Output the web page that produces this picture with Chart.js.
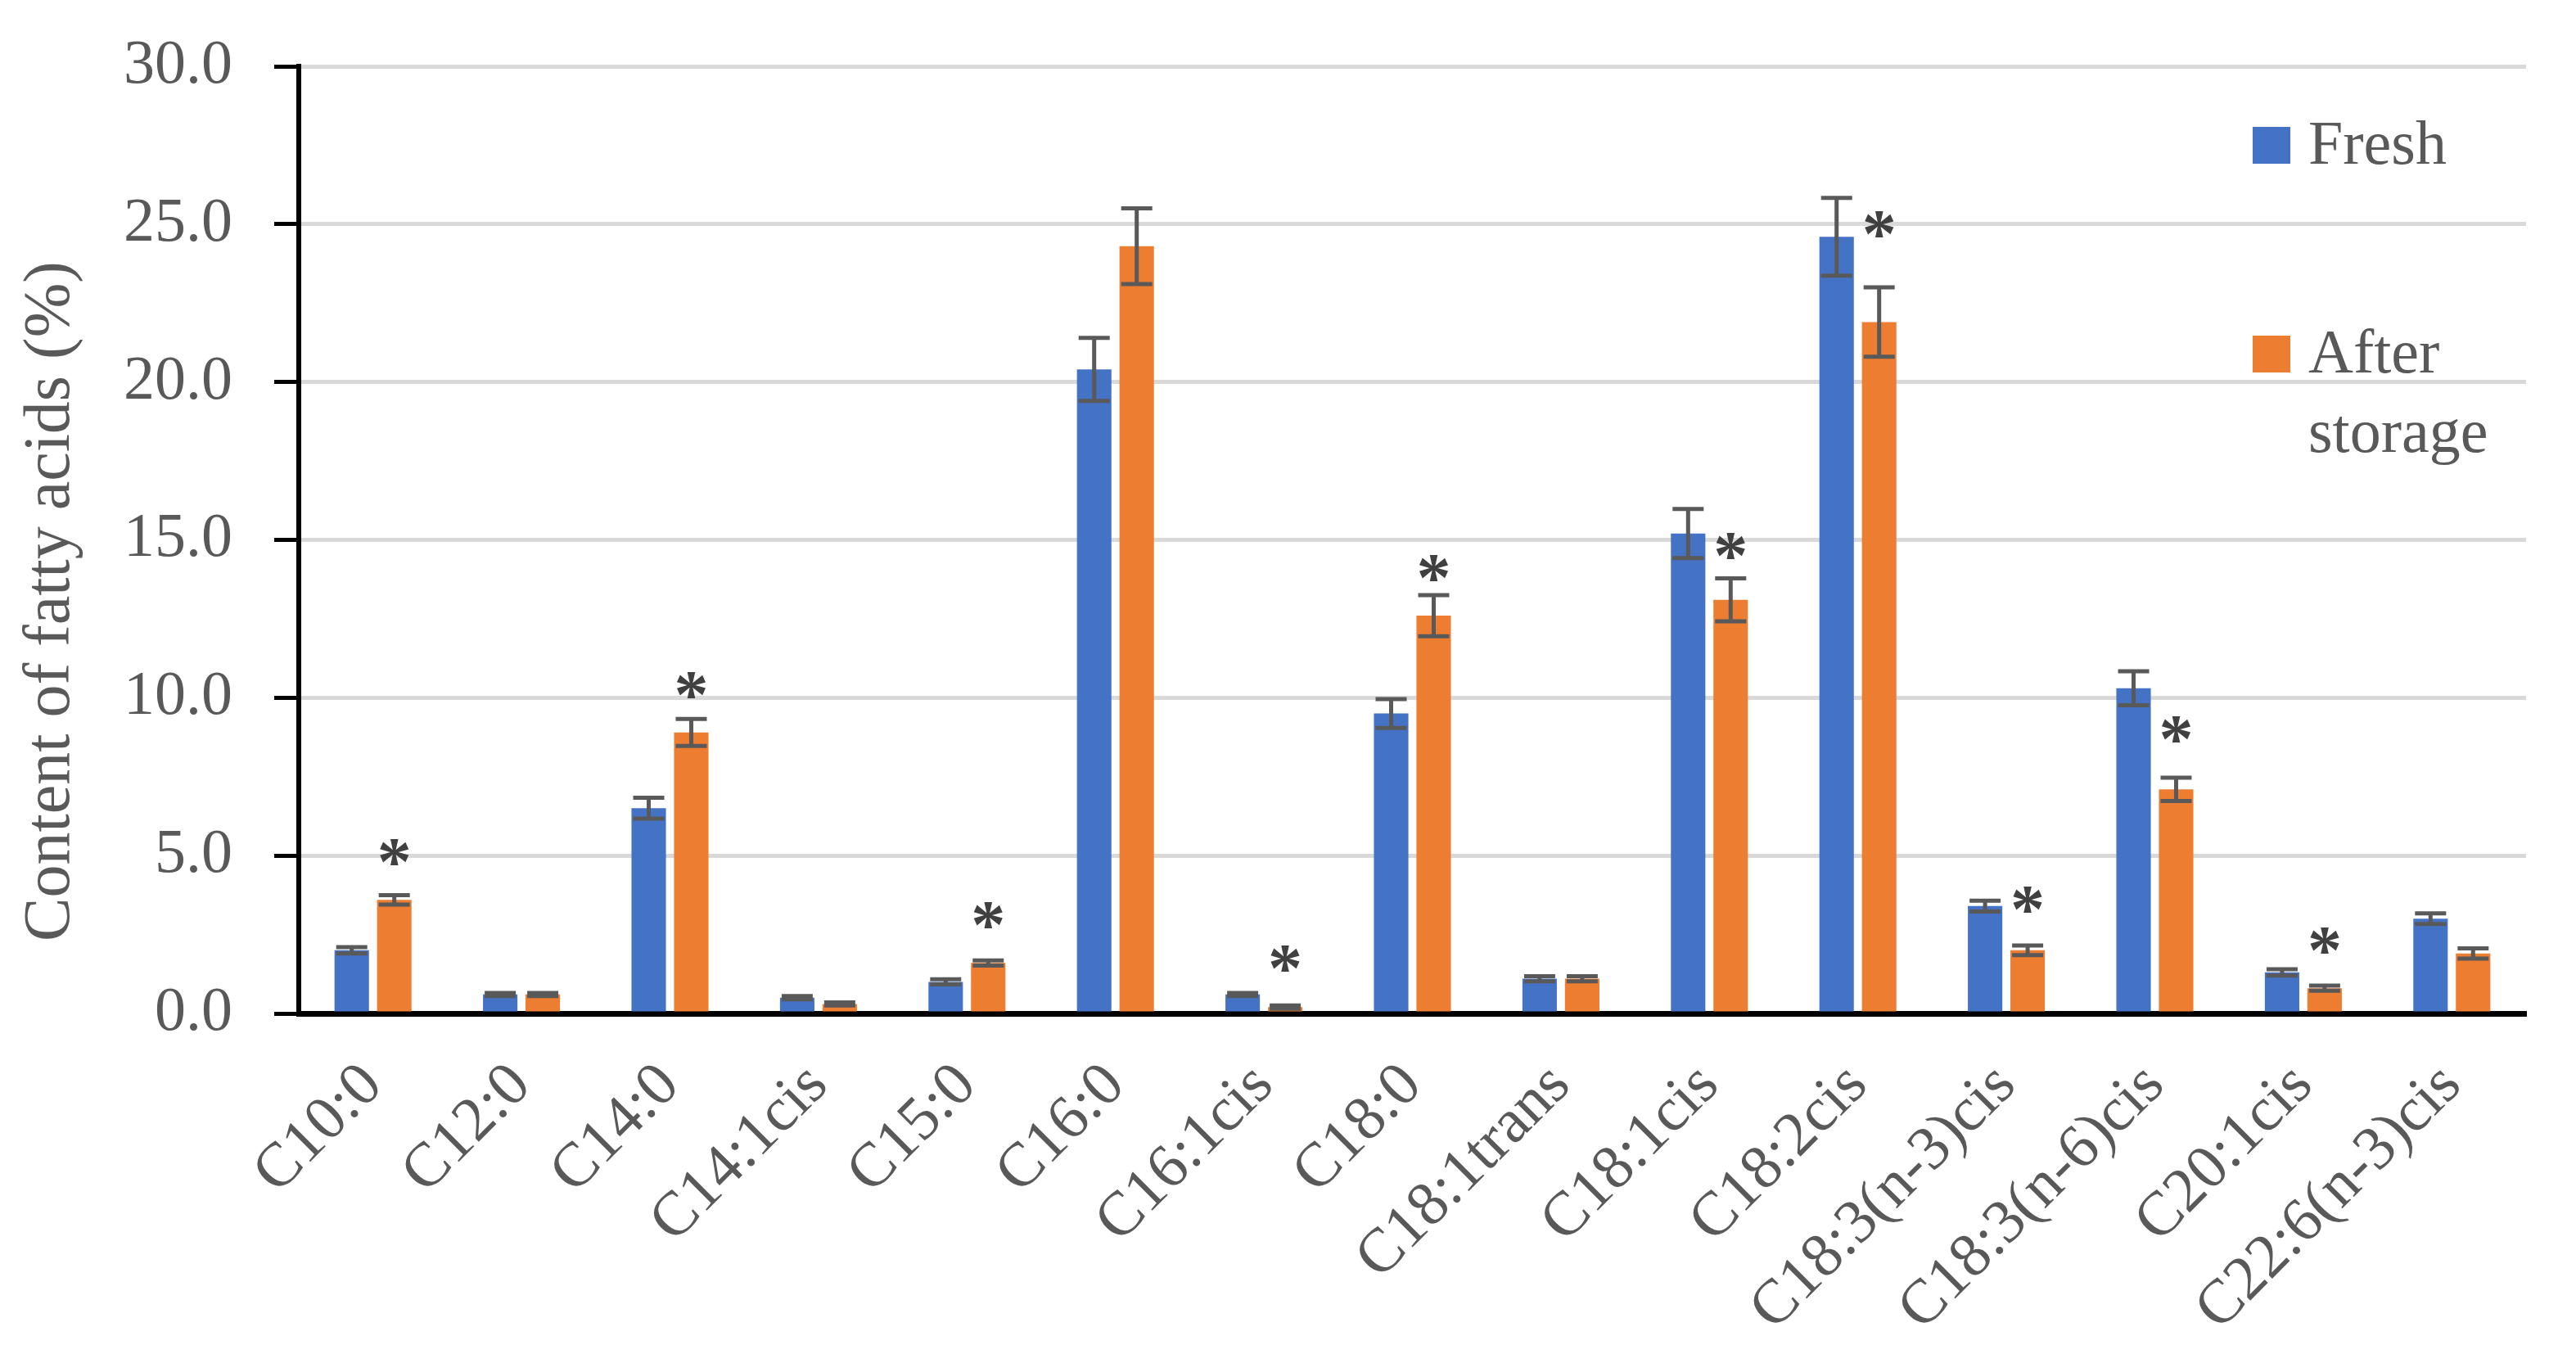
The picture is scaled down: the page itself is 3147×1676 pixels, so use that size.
<!DOCTYPE html>
<html>
<head>
<meta charset="utf-8">
<script src="https://cdn.jsdelivr.net/npm/chart.js@4.4.1/dist/chart.umd.min.js"></script>
<style>
    html, body { margin: 0; padding: 0; background: #ffffff; }
</style>
</head>
<body>
<canvas id="chartAcids" width="3147" height="1676"></canvas>
<script>
'use strict';

//data

var acids = ['C10:0', 'C12:0', 'C14:0', 'C14:1cis', 'C15:0', 'C16:0', 'C16:1cis', 'C18:0',
    'C18:1trans', 'C18:1cis', 'C18:2cis', 'C18:3(n-3)cis', 'C18:3(n-6)cis', 'C20:1cis', 'C22:6(n-3)cis'];

var fresh    = [2.0, 0.6, 6.5, 0.5, 1.0, 20.4, 0.6, 9.5, 1.1, 15.2, 24.6, 3.4, 10.3, 1.3, 3.0];
var freshErr = [0.1, 0.05, 0.33, 0.05, 0.08, 1.0, 0.05, 0.46, 0.08, 0.78, 1.23, 0.17, 0.54, 0.1, 0.17];

var stored    = [3.6, 0.6, 8.9, 0.3, 1.6, 24.3, 0.2, 12.6, 1.1, 13.1, 21.9, 2.0, 7.1, 0.8, 1.9];
var storedErr = [0.15, 0.05, 0.43, 0.05, 0.08, 1.2, 0.05, 0.65, 0.08, 0.68, 1.1, 0.15, 0.37, 0.08, 0.16];

//significance marks (height of the asterisk, % scale), null = none
var starAt = [5.1, null, 10.4, null, 3.1, null, 1.75, 14.1, null, 14.8, 25.0, 3.6, 9.0, 2.3, null];

var seriesNames = ['Fresh', ['After', 'storage']];

//colors

var colorFresh = 'rgb(068,114,196)';
var colorStored = 'rgb(237,125,049)';
var colorText = 'rgb(089,089,089)';
var colorGrid = 'rgb(217,217,217)';
var colorAxis = 'rgb(000,000,000)';

var fontFamily = "'Liberation Serif', 'Times New Roman', serif";
var fontSize = 76;

//error bars

const errorBarsPlugin = {
    id: 'errorBars',
    afterDatasetsDraw: function (chart) {
        var ctx = chart.ctx;
        var yScale = chart.scales['y'];
        var errs = [freshErr, storedErr];
        ctx.save();
        ctx.strokeStyle = colorText;
        ctx.lineWidth = 5;
        ctx.lineCap = 'butt';
        chart.data.datasets.forEach(function (ds, i) {
            var meta = chart.getDatasetMeta(i);
            meta.data.forEach(function (bar, j) {
                var v = ds.data[j];
                var e = errs[i][j];
                var yTop = yScale.getPixelForValue(v + e);
                var yBot = yScale.getPixelForValue(Math.max(v - e, 0));
                var half = 19;
                ctx.beginPath();
                ctx.moveTo(bar.x, yTop);
                ctx.lineTo(bar.x, yBot);
                ctx.moveTo(bar.x - half, yTop);
                ctx.lineTo(bar.x + half, yTop);
                ctx.moveTo(bar.x - half, yBot);
                ctx.lineTo(bar.x + half, yBot);
                ctx.stroke();
            });
        });
        ctx.restore();
    }
};

//asterisks over the after storage bars

const starsPlugin = {
    id: 'stars',
    afterDatasetsDraw: function (chart) {
        var ctx = chart.ctx;
        var yScale = chart.scales['y'];
        var meta = chart.getDatasetMeta(1);
        ctx.save();
        ctx.fillStyle = 'rgb(064,064,064)';
        ctx.font = 'bold 84px ' + fontFamily;
        ctx.textAlign = 'center';
        ctx.textBaseline = 'alphabetic';
        var m = ctx.measureText('*');
        var shift = (m.actualBoundingBoxAscent - m.actualBoundingBoxDescent) / 2;
        meta.data.forEach(function (bar, j) {
            if (starAt[j] === null) return;
            ctx.fillText('*', bar.x, yScale.getPixelForValue(starAt[j]) + shift);
        });
        ctx.restore();
    }
};

//legend inside the plot, and the y axis title

const decorPlugin = {
    id: 'decor',
    afterDraw: function (chart) {
        var ctx = chart.ctx;
        var area = chart.chartArea;
        var colors = [colorFresh, colorStored];
        var boxX = area.right - 334;
        var boxTops = [area.top + 74, area.top + 329];
        ctx.save();
        ctx.font = fontSize + 'px ' + fontFamily;
        ctx.fillStyle = colorText;
        ctx.textAlign = 'left';
        ctx.textBaseline = 'alphabetic';
        seriesNames.forEach(function (name, i) {
            var lines = Array.isArray(name) ? name : [name];
            ctx.fillStyle = colors[i];
            ctx.fillRect(boxX, boxTops[i], 46, 45);
            ctx.fillStyle = colorText;
            lines.forEach(function (line, k) {
                ctx.fillText(line, boxX + 68, boxTops[i] + 45 + k * 97);
            });
        });

        //y title
        ctx.font = '80px ' + fontFamily;
        ctx.translate(area.left - 302, (area.top + area.bottom) / 2 + 75);
        ctx.rotate(-Math.PI / 2);
        ctx.textAlign = 'center';
        ctx.textBaseline = 'middle';
        ctx.fillText('Content of fatty acids (%)', 0, 0);
        ctx.restore();
    }
};

//chart

const chartAcidsData = {
    labels: acids,
    datasets: [{
        label: 'Fresh',
        backgroundColor: colorFresh,
        borderWidth: 0,
        data: fresh
    },
    {
        label: 'After storage',
        backgroundColor: colorStored,
        borderWidth: 0,
        data: stored
    }]
};

const chartAcidsConfig = {
    type: 'bar',
    data: chartAcidsData,
    options: {
        responsive: false,
        animation: false,
        devicePixelRatio: 1,
        categoryPercentage: 0.573,
        barPercentage: 0.81,
        layout: {
            padding: { top: 81, right: 61, left: 0, bottom: 0 }
        },
        plugins: {
            legend: { display: false },
            tooltip: { enabled: false },
            title: { display: false }
        },
        scales: {
            x: {
                afterFit: function (scale) {
                    scale.height = 438;
                    scale.paddingLeft = 0;
                    scale.paddingRight = 0;
                },
                grid: { display: false },
                border: { display: true, color: colorAxis, width: 7 },
                ticks: {
                    color: colorText,
                    font: { family: fontFamily, size: fontSize },
                    minRotation: 45,
                    maxRotation: 45,
                    autoSkip: false,
                    padding: 36
                }
            },
            y: {
                min: 0,
                max: 30,
                afterFit: function (scale) {
                    scale.width = 365;
                    scale.paddingTop = 0;
                    scale.paddingBottom = 0;
                },
                grid: {
                    color: colorGrid,
                    lineWidth: 5,
                    tickColor: colorAxis,
                    tickWidth: 5,
                    tickLength: 30
                },
                border: { display: true, color: colorAxis, width: 6 },
                ticks: {
                    stepSize: 5,
                    color: colorText,
                    font: { family: fontFamily, size: fontSize },
                    padding: 51,
                    callback: function (v) { return v.toFixed(1); }
                }
            }
        }
    },
    plugins: [errorBarsPlugin, starsPlugin, decorPlugin]
};

var chartAcids = new Chart(
    document.getElementById('chartAcids'),
    chartAcidsConfig
);
</script>
</body>
</html>
